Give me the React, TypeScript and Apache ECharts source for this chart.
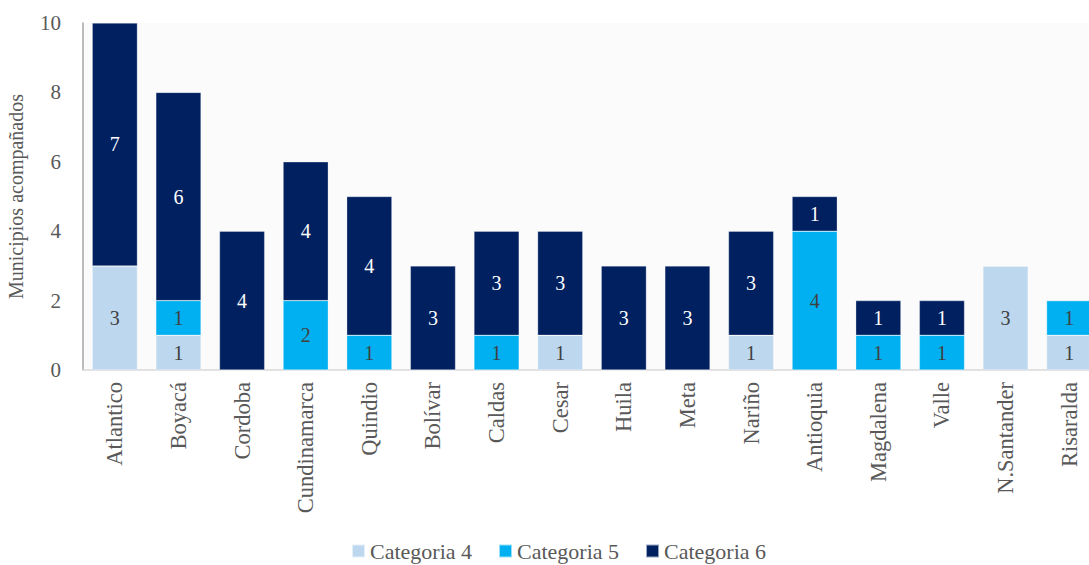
import React, { useEffect, useRef } from "react";
import * as echarts from "echarts";

const categories = ["Atlantico", "Boyacá", "Cordoba", "Cundinamarca", "Quindio", "Bolívar", "Caldas", "Cesar", "Huila", "Meta", "Nariño", "Antioquia", "Magdalena", "Valle", "N.Santander", "Risaralda"];
const cat4 = [3, 1, 0, 0, 0, 0, 0, 1, 0, 0, 1, 0, 0, 0, 3, 1];
const cat5 = [0, 1, 0, 2, 1, 0, 1, 0, 0, 0, 0, 4, 1, 1, 0, 1];
const cat6 = [7, 6, 4, 4, 4, 3, 3, 3, 3, 3, 3, 1, 1, 1, 0, 0];
const yTicks = [0, 2, 4, 6, 8, 10];

const FONT = "'Liberation Serif', 'DejaVu Serif', serif";

export default function App() {
  const ref = useRef<HTMLDivElement>(null);
  useEffect(() => {
    const chart = echarts.init(ref.current!, null, { renderer: "svg" });
    const mk = (name: string, data: number[], color: string, labelColor: string) => ({
      name,
      type: "bar",
      stack: "total",
      data,
      barCategoryGap: "29%",
      itemStyle: { color, borderColor: "rgba(255,255,255,0.6)", borderWidth: 0.5 },
      label: {
        show: true,
        position: "inside",
        color: labelColor,
        fontFamily: FONT,
        fontSize: 20,
        formatter: (p: any) => (p.value ? String(p.value) : ""),
      },
    });
    chart.setOption({
      animation: false,
      textStyle: { fontFamily: FONT },
      grid: {
        left: 83, right: -12, top: 23, bottom: 195,
        show: true, backgroundColor: "#fbfbfc", borderWidth: 0,
        containLabel: false, outerBoundsMode: "none",
      },
      legend: {
        bottom: -2,
        left: 346,
        itemWidth: 13,
        itemHeight: 13,
        itemGap: 26,
        icon: "rect",
        textStyle: { fontFamily: FONT, fontSize: 22, color: "#595959" },
        data: ["Categoria 4", "Categoria 5", "Categoria 6"],
      },
      xAxis: {
        type: "category",
        data: categories,
        axisLine: { show: true, lineStyle: { color: "#d9d9d9", width: 1.5 } },
        axisTick: { show: false },
        axisLabel: { rotate: 90, fontFamily: FONT, fontSize: 22.5, color: "#595959", margin: 12, interval: 0 },
      },
      yAxis: {
        type: "value",
        min: yTicks[0],
        max: yTicks[yTicks.length - 1],
        interval: 2,
        name: "Municipios acompañados",
        nameLocation: "middle",
        nameGap: 57,
        nameTextStyle: { fontFamily: FONT, fontSize: 20, color: "#595959" },
        axisLine: { show: true, lineStyle: { color: "#a6a6a6", width: 1.5 } },
        axisTick: { show: false },
        splitLine: { show: false },
        axisLabel: { fontFamily: FONT, fontSize: 21, color: "#595959", margin: 22 },
      },
      series: [
        mk("Categoria 4", cat4, "#bdd7ee", "#404040"),
        mk("Categoria 5", cat5, "#00b0f0", "#404040"),
        mk("Categoria 6", cat6, "#002060", "#ffffff"),
      ],
    });
    return () => chart.dispose();
  }, []);
  return <div ref={ref} style={{ position: "absolute", left: 0, top: 0, width: 1089, height: 565 }} />;
}
